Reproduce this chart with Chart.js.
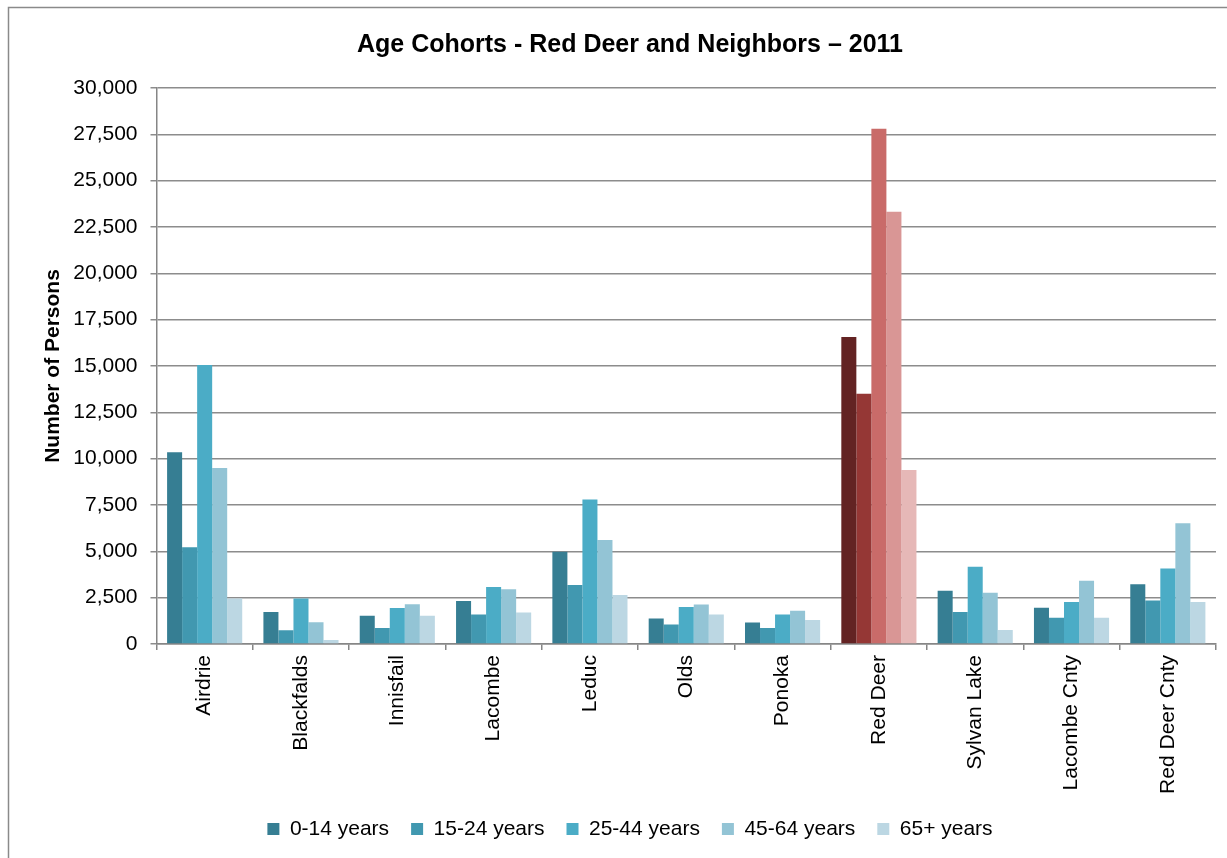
<!DOCTYPE html>
<html>
<head>
<meta charset="utf-8">
<title>Age Cohorts - Red Deer and Neighbors – 2011</title>
<script src="https://cdn.jsdelivr.net/npm/chart.js@4.4.1/dist/chart.umd.min.js"></script>
<style>
  html, body { margin: 0; padding: 0; background: #ffffff; }
  #wrap { width: 1227px; height: 858px; }
</style>
</head>
<body>
<div id="wrap"><canvas id="chart" width="1227" height="858"></canvas></div>
<script>
// Communities along the category axis
const communities = ['Airdrie', 'Blackfalds', 'Innisfail', 'Lacombe', 'Leduc', 'Olds',
  'Ponoka', 'Red Deer', 'Sylvan Lake', 'Lacombe Cnty', 'Red Deer Cnty'];

// Cohort names (legend)
const cohorts = ['0-14 years', '15-24 years', '25-44 years', '45-64 years', '65+ years'];

// Population by cohort, 2011 (one value per community)
const age0to14  = [10350, 1720, 1520, 2320, 4980, 1380, 1160, 16570, 2870, 1950, 3220];
const age15to24 = [5220,  740,  860, 1590, 3180, 1050,  860, 13500, 1720, 1410, 2350];
const age25to44 = [15050, 2460, 1940, 3070, 7800, 2000, 1590, 27800, 4170, 2260, 4070];
const age45to64 = [9500, 1180, 2140, 2960, 5610, 2130, 1800, 23320, 2760, 3410, 6520];
const age65plus = [2460,  220, 1520, 1700, 2640, 1590, 1290,  9390,  750, 1410, 2260];

// Y axis range and step
const yMin = 0, yMax = 30000, yStep = 2500;

// Fill colours: blue family for all communities, red family for the highlighted city
const blueShades = ['#367e93', '#4198b0', '#4bacc6', '#93c4d5', '#bcd7e3'];
const redShades  = ['#632323', '#953735', '#c96b69', '#d99695', '#e6b8b7'];
const highlighted = 'Red Deer';

const seriesValues = [age0to14, age15to24, age25to44, age45to64, age65plus];
const highlightIndex = communities.indexOf(highlighted);

const FONT = "'Liberation Sans', Arial, sans-serif";

const datasets = cohorts.map((name, i) => ({
  label: name,
  data: seriesValues[i],
  backgroundColor: (ctx) => (ctx.dataIndex === highlightIndex ? redShades[i] : blueShades[i]),
  borderWidth: 0,
  categoryPercentage: 0.78,
  barPercentage: 1.0
}));

// White page with the thin grey frame around the chart
const framePlugin = {
  id: 'frame',
  beforeDraw(chart) {
    const c = chart.ctx;
    c.save();
    c.fillStyle = '#ffffff';
    c.fillRect(0, 0, chart.width, chart.height);
    c.strokeStyle = '#8a8a8a';
    c.lineWidth = 1.5;
    c.strokeRect(8.5, 7.5, chart.width + 20, chart.height + 20);
    c.restore();
  }
};

new Chart(document.getElementById('chart'), {
  type: 'bar',
  data: { labels: communities, datasets },
  plugins: [framePlugin],
  options: {
    responsive: false,
    animation: false,
    devicePixelRatio: 1,
    layout: { padding: { left: 44, right: 11, top: 0, bottom: 8.5 } },
    plugins: {
      title: {
        display: true,
        text: 'Age Cohorts - Red Deer and Neighbors – 2011',
        color: '#000000',
        font: { family: FONT, size: 25, weight: 'bold' },
        padding: { top: 30, bottom: 28 }
      },
      legend: {
        position: 'bottom',
        labels: {
          color: '#000000',
          font: { family: FONT, size: 21 },
          boxWidth: 12,
          boxHeight: 12,
          padding: 22
        }
      },
      tooltip: { enabled: false }
    },
    scales: {
      x: {
        offset: true,
        border: { color: '#868686', width: 1.5 },
        grid: { display: true, drawOnChartArea: false, drawTicks: true, tickLength: 6, offset: true, color: '#868686', lineWidth: 1.5 },
        ticks: {
          color: '#000000',
          font: { family: FONT, size: 21 },
          minRotation: 90,
          maxRotation: 90,
          autoSkip: false,
          padding: 5
        },
        afterFit(scale) { scale.height = 152.5; }
      },
      y: {
        min: yMin,
        max: yMax,
        border: { color: '#868686', width: 1.5 },
        grid: { color: '#8c8c8c', lineWidth: 1.5, tickLength: 6, drawTicks: true },
        ticks: {
          stepSize: yStep,
          color: '#000000',
          font: { family: FONT, size: 21 },
          padding: 13,
          callback: (v) => v.toLocaleString('en-US')
        },
        title: {
          display: true,
          text: 'Number of Persons',
          color: '#000000',
          font: { family: FONT, size: 21, weight: 'bold' },
          padding: { top: -3, bottom: 0 }
        },
        afterFit(scale) { scale.width = 112.5; }
      }
    }
  }
});
</script>
</body>
</html>
